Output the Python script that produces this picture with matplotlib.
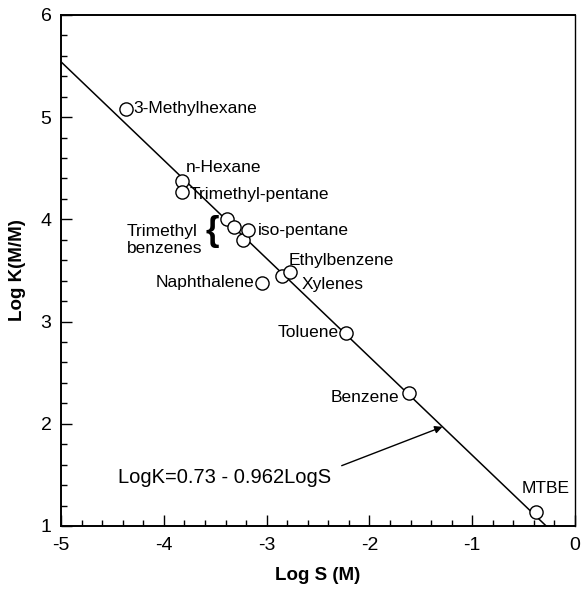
import numpy as np
import matplotlib
matplotlib.use("Agg")
import matplotlib.pyplot as plt

plt.rcParams['font.family'] = ['Liberation Sans', 'DejaVu Sans']
plt.rcParams['axes.unicode_minus'] = False

# log solubility (M) and log partition coefficient for each compound
names = ["3-Methylhexane", "n-Hexane", "Trimethyl-pentane",
         "TMB-1", "TMB-2", "TMB-3", "iso-pentane",
         "Ethylbenzene", "Xylenes", "Naphthalene",
         "Toluene", "Benzene", "MTBE"]
logS = [-4.37, -3.82, -3.82, -3.39, -3.32, -3.23, -3.18,
        -2.85, -2.77, -3.05, -2.23, -1.62, -0.38]
logK = [5.08, 4.37, 4.27, 4.00, 3.92, 3.80, 3.90,
        3.45, 3.48, 3.38, 2.89, 2.30, 1.14]

# regression: LogK = a - b*LogS
a = 0.73
b = 0.962

# label text, anchor point, alignment
labels = [
    ("3-Methylhexane", -4.30, 5.08, "left"),
    ("n-Hexane", -3.79, 4.51, "left"),
    ("Trimethyl-pentane", -3.75, 4.24, "left"),
    ("Trimethyl\nbenzenes", -4.36, 3.80, "left"),
    ("iso-pentane", -3.09, 3.89, "left"),
    ("Ethylbenzene", -2.79, 3.60, "left"),
    ("Xylenes", -2.66, 3.36, "left"),
    ("Naphthalene", -3.12, 3.38, "right"),
    ("Toluene", -2.30, 2.89, "right"),
    ("Benzene", -1.71, 2.26, "right"),
    ("MTBE", -0.29, 1.37, "center"),
]

fig = plt.figure(figsize=(5.82, 5.95), dpi=100)
ax = fig.add_axes([0.105, 0.116, 0.883, 0.859])

xs = np.linspace(-5, 0, 50)
ax.plot(xs, a - b * xs, color="black", lw=1.1, zorder=2)
ax.plot(logS, logK, "o", ms=9.5, mfc="white", mec="black", mew=1.0, zorder=3)

for txt, x, y, ha in labels:
    ax.text(x, y, txt, ha=ha, va="center", fontsize=12.5)

# brace grouping the trimethylbenzenes
ax.text(-3.53, 3.88, "{", ha="center", va="center", fontsize=25,
        fontweight="bold")

ax.text(-4.45, 1.47, "LogK=0.73 - 0.962LogS", ha="left", va="center",
        fontsize=14.5)
ax.annotate("", xy=(-1.29, 1.97), xytext=(-2.27, 1.59),
            arrowprops=dict(arrowstyle="-|>", color="black", lw=1.0,
                            mutation_scale=11, shrinkA=0, shrinkB=0))

ax.set_xlim(-5, 0)
ax.set_ylim(1, 6)
ax.set_xticks([-5, -4, -3, -2, -1, 0])
ax.set_yticks([1, 2, 3, 4, 5, 6])
ax.set_xticks(np.arange(-5, 0, 0.2), minor=True)
ax.set_yticks(np.arange(1, 6, 0.2), minor=True)
ax.tick_params(which="both", direction="in", top=False, right=False,
               labelsize=14, width=1.0)
ax.tick_params(which="major", length=8)
ax.tick_params(which="minor", length=4)
ax.tick_params(axis="x", pad=8)
ax.tick_params(axis="y", pad=7)

for side in ["left", "bottom", "top"]:
    ax.spines[side].set_linewidth(1.4)
ax.spines["right"].set_linewidth(1.0)

ax.set_xlabel("Log S (M)", fontsize=13.5, fontweight="bold", labelpad=9)
ax.set_ylabel("Log K(M/M)", fontsize=13.5, fontweight="bold", labelpad=10)

fig.savefig("out.png", dpi=100)
